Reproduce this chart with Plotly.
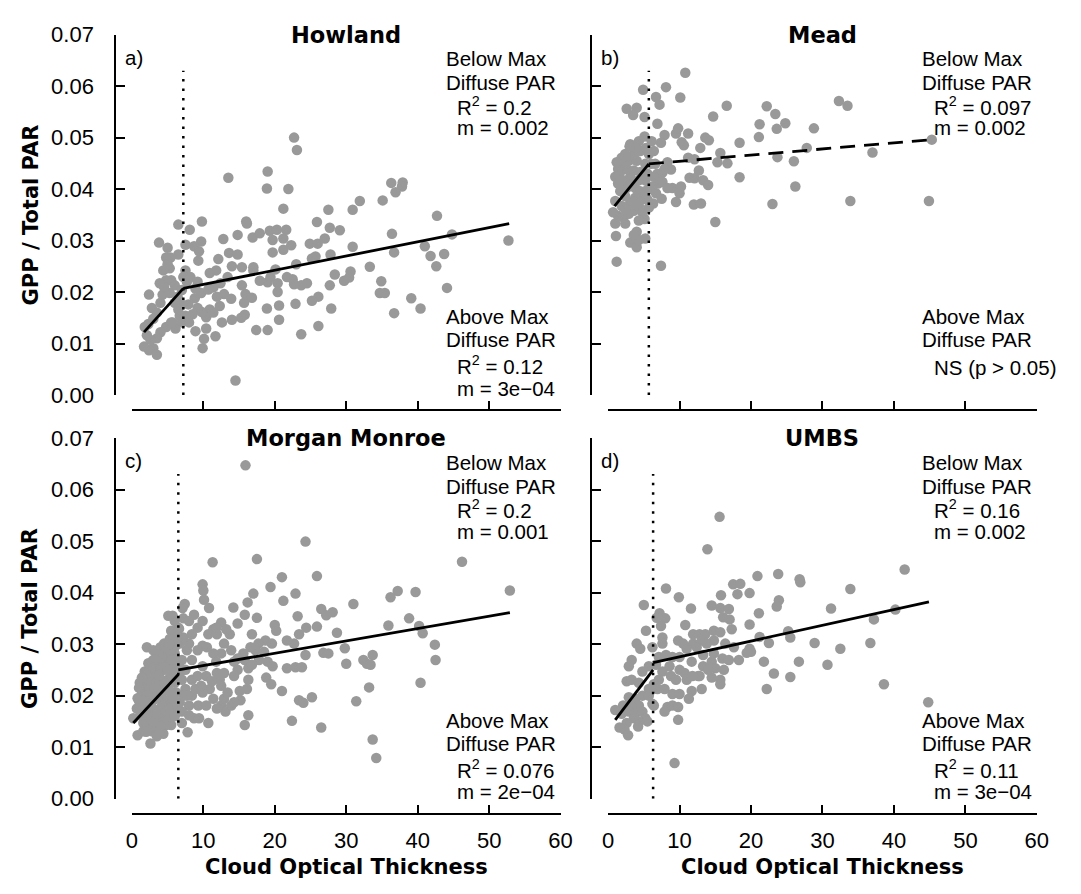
import plotly.graph_objects as go

# ---------------- data ----------------
howland_x = [22.7,23.1,13.5,19.0,18.9,21.9,21.2,36.3,37.9,37.8,36.9,31.9,35.1,30.9,27.5,25.9,16.0,16.1,9.8,8.1,6.5,14.8,12.8,16.9,17.9,19.3,20.3,21.6,19.7,21.2,19.7,21.2,22.3,24.9,26.0,27.0,27.7,29.1,27.8,25.7,25.2,30.9,36.4,36.7,42.7,41.0,41.8,43.7,44.8,42.6,44.1,52.7,33.3,30.6,29.7,30.4,28.4,27.7,34.9,34.7,35.4,39.1,40.4,36.7,26.1,25.2,27.9,26.1,23.7,22.9,24.5,23.7,22.5,21.7,22.7,23.0,20.1,20.4,20.4,20.6,20.6,19.0,18.9,19.0,19.4,17.4,17.0,17.9,15.9,16.8,15.7,15.8,15.3,14.0,14.5,11.7,9.9,10.1,8.9,12.6,12.3,10.9,10.4,9.8,9.2,8.5,7.9,8.8,9.7,10.7,11.4,12.4,11.8,10.9,12.1,9.3,9.7,8.7,13.6,14.0,14.8,15.4,15.4,17.0,13.4,13.9,12.9,7.5,6.5,5.3,5.5,6.0,3.8,5.0,5.4,4.4,4.8,4.3,5.3,6.4,7.0,6.7,5.5,6.1,4.8,4.0,3.5,3.0,2.4,1.7,3.5,2.6,2.1,1.8,2.3,2.4,2.8,3.5,4.0,3.0,7.0,7.7,7.2,8.2,9.2,7.5,9.4,8.9,11.9,11.4,10.4,4.8,5.0,4.5,6.0,6.5,5.7,7.0,7.5,8.0,3.9]
howland_y = [0.0500,0.0476,0.0422,0.0434,0.0401,0.0400,0.0362,0.0412,0.0413,0.0405,0.0394,0.0377,0.0378,0.0360,0.0360,0.0336,0.0337,0.0333,0.0337,0.0321,0.0331,0.0311,0.0303,0.0306,0.0314,0.0319,0.0321,0.0321,0.0301,0.0304,0.0277,0.0282,0.0291,0.0294,0.0294,0.0304,0.0325,0.0320,0.0273,0.0269,0.0265,0.0288,0.0313,0.0277,0.0348,0.0289,0.0270,0.0274,0.0312,0.0250,0.0208,0.0300,0.0249,0.0240,0.0222,0.0228,0.0234,0.0213,0.0221,0.0198,0.0198,0.0188,0.0168,0.0159,0.0191,0.0183,0.0168,0.0134,0.0118,0.0177,0.0217,0.0213,0.0225,0.0229,0.0215,0.0254,0.0244,0.0217,0.0200,0.0174,0.0146,0.0126,0.0168,0.0219,0.0229,0.0126,0.0242,0.0222,0.0196,0.0189,0.0179,0.0156,0.0150,0.0146,0.0028,0.0114,0.0091,0.0109,0.0124,0.0141,0.0173,0.0166,0.0151,0.0161,0.0169,0.0157,0.0176,0.0188,0.0198,0.0205,0.0209,0.0217,0.0242,0.0237,0.0264,0.0261,0.0298,0.0289,0.0276,0.0250,0.0273,0.0248,0.0213,0.0248,0.0229,0.0187,0.0196,0.0242,0.0273,0.0246,0.0223,0.0213,0.0296,0.0286,0.0267,0.0242,0.0223,0.0195,0.0198,0.0191,0.0176,0.0154,0.0141,0.0129,0.0132,0.0122,0.0110,0.0091,0.0087,0.0094,0.0078,0.0107,0.0116,0.0132,0.0138,0.0195,0.0169,0.0160,0.0179,0.0148,0.0204,0.0220,0.0229,0.0229,0.0220,0.0292,0.0279,0.0207,0.0191,0.0160,0.0129,0.0267,0.0254,0.0210,0.0179,0.0166,0.0141,0.0141,0.0154,0.0141,0.0217]

mead_x = [10.8,4.9,8.1,6.7,7.2,10.1,2.6,4.0,3.5,5.1,14.7,16.6,22.2,23.4,32.3,33.5,21.2,23.6,24.8,28.8,21.1,18.4,27.8,37.0,45.3,23.7,26.0,26.2,23.0,33.9,44.9,18.4,15.7,15.3,16.7,14.1,13.6,12.9,12.1,11.2,11.2,10.3,10.6,9.5,9.8,7.9,6.9,7.4,8.3,8.8,7.6,9.0,10.2,10.0,9.5,7.5,6.3,7.0,6.2,11.4,12.1,12.7,13.3,14.0,12.0,13.0,15.0,7.4,1.2,1.1,3.1,4.0,4.3,5.2,5.1,1.0,1.4,0.7,2.1,2.9,3.6,1.9,3.1,4.3,4.8,5.5,3.8,2.4,1.7,2.6,3.8,4.5,5.5,2.1,3.1,4.3,5.2,1.7,2.6,3.6,4.5,5.5,1.7,2.9,4.0,5.2,1.9,3.6,4.5,5.7,6.4,3.1,4.3,5.1,6.1,3.8,5.3,1.4,1.0,1.4,6.6,6.9,7.9,6.4,7.6,8.3,6.7,6.0,4.0,3.6,2.4,1.0,4.8,4.3,2.4,5.7,5.2,3.3,1.2,2.4,3.0]
mead_y = [0.0626,0.0593,0.0598,0.0579,0.0564,0.0578,0.0556,0.0558,0.0544,0.0540,0.0541,0.0562,0.0561,0.0546,0.0571,0.0562,0.0526,0.0517,0.0528,0.0518,0.0501,0.0490,0.0480,0.0471,0.0496,0.0462,0.0454,0.0405,0.0371,0.0377,0.0377,0.0423,0.0470,0.0452,0.0450,0.0495,0.0500,0.0480,0.0458,0.0461,0.0508,0.0491,0.0485,0.0508,0.0518,0.0505,0.0527,0.0490,0.0452,0.0438,0.0432,0.0402,0.0405,0.0392,0.0375,0.0381,0.0372,0.0411,0.0405,0.0422,0.0421,0.0436,0.0417,0.0408,0.0370,0.0372,0.0336,0.0251,0.0259,0.0309,0.0296,0.0287,0.0301,0.0304,0.0342,0.0333,0.0348,0.0355,0.0345,0.0352,0.0358,0.0367,0.0374,0.0367,0.0380,0.0380,0.0383,0.0386,0.0396,0.0402,0.0402,0.0396,0.0399,0.0417,0.0424,0.0417,0.0417,0.0433,0.0439,0.0436,0.0433,0.0430,0.0449,0.0455,0.0455,0.0449,0.0461,0.0468,0.0474,0.0468,0.0474,0.0487,0.0493,0.0502,0.0493,0.0480,0.0480,0.0439,0.0424,0.0411,0.0449,0.0430,0.0439,0.0424,0.0414,0.0402,0.0392,0.0449,0.0317,0.0311,0.0361,0.0377,0.0355,0.0339,0.0333,0.0364,0.0392,0.0411,0.0452,0.0468,0.0483]

mm_x = [15.9,24.3,46.2,11.3,17.5,21.0,25.9,9.9,10.0,19.4,22.9,17.0,52.9,37.2,39.7,36.2,31.0,7.4,7.1,10.1,10.8,14.2,16.2,21.2,26.5,27.2,28.1,23.2,17.5,5.1,7.2,38.8,35.9,40.2,40.7,42.4,42.5,40.4,28.7,29.8,30.0,32.4,32.9,33.7,33.4,33.2,31.4,33.7,34.2,26.8,27.5,25.2,26.5,23.4,24.0,22.4,21.0,21.7,22.9,23.8,24.3,22.7,21.7,23.4,24.4,25.9,20.0,20.2,19.6,18.7,17.7,17.3,19.0,19.7,18.8,19.5,16.3,16.1,15.2,16.3,15.8,16.6,15.8,14.8,14.3,14.8,13.7,12.5,11.4,10.7,11.9,12.9,12.5,11.4,10.5,9.9,9.2,8.4,8.0,8.4,9.9,10.4,11.9,12.3,12.5,10.9,9.9,9.3,10.4,11.4,12.5,13.1,13.9,12.9,11.9,10.7,9.4,8.7,8.0,7.8,7.0,8.0,8.4,7.5,8.4,7.5,7.0,7.7,6.7,6.0,5.5,6.5,6.0,7.0,6.7,7.0,6.1,5.5,4.8,5.3,4.5,4.0,3.3,4.4,2.6,0.8,0.2,1.6,2.1,2.8,3.5,1.8,2.3,3.0,4.0,5.0,5.7,3.5,2.8,4.5,5.5,1.6,2.3,3.0,4.0,5.0,6.0,1.6,2.6,3.5,4.5,5.5,6.2,1.8,3.0,4.0,5.0,5.7,1.3,2.3,3.3,1.8,2.6,3.3,1.6,2.6,4.0,4.8,2.1,3.0,4.0,5.0,5.5,4.5,5.3,6.0,2.8,4.2,1.8,1.3,1.1,2.0,1.2,0.7,6.5,6.7,7.2,7.7,8.9,9.2,9.7,11.2,11.8,12.9,13.4,14.3,15.1,16.3,17.8,18.5,16.8,15.6,14.3,13.9,13.2,14.8,16.8,8.0,8.7,9.9,9.2,7.2,15.8,11.8,
        1.0,1.5,2.0,2.5,3.0,3.5,4.0,4.5,5.0,5.5,6.0,6.3,5.8,5.2,4.7,4.2,3.7,3.2,2.6,2.0,1.4,1.0,0.8,1.2,1.8,2.4,3.0,3.6,4.2,4.8,5.4,6.0,6.4,5.8,5.2,4.6,4.0,3.4,2.8,2.2,1.6,6.2,5.6,5.0,3.8,3.2,2.6,2.0,3.8,6.3,6.6,6.0,5.7]
mm_y = [0.0647,0.0499,0.0460,0.0459,0.0465,0.0430,0.0432,0.0416,0.0404,0.0411,0.0398,0.0398,0.0404,0.0403,0.0401,0.0391,0.0378,0.0378,0.0370,0.0386,0.0370,0.0371,0.0381,0.0384,0.0368,0.0356,0.0362,0.0354,0.0351,0.0355,0.0350,0.0350,0.0336,0.0335,0.0321,0.0299,0.0269,0.0225,0.0322,0.0292,0.0262,0.0269,0.0262,0.0279,0.0260,0.0216,0.0189,0.0115,0.0079,0.0283,0.0282,0.0197,0.0138,0.0191,0.0186,0.0151,0.0209,0.0253,0.0255,0.0255,0.0279,0.0301,0.0307,0.0319,0.0332,0.0334,0.0337,0.0326,0.0301,0.0307,0.0301,0.0288,0.0266,0.0257,0.0235,0.0222,0.0231,0.0213,0.0191,0.0162,0.0143,0.0294,0.0269,0.0250,0.0238,0.0272,0.0319,0.0342,0.0329,0.0319,0.0319,0.0301,0.0282,0.0282,0.0294,0.0297,0.0332,0.0319,0.0301,0.0269,0.0257,0.0238,0.0244,0.0231,0.0219,0.0213,0.0206,0.0181,0.0181,0.0194,0.0181,0.0169,0.0181,0.0194,0.0175,0.0147,0.0156,0.0156,0.0162,0.0129,0.0147,0.0181,0.0200,0.0213,0.0231,0.0250,0.0269,0.0288,0.0301,0.0294,0.0326,0.0332,0.0282,0.0231,0.0187,0.0169,0.0175,0.0143,0.0143,0.0162,0.0175,0.0156,0.0137,0.0126,0.0107,0.0123,0.0156,0.0131,0.0140,0.0131,0.0121,0.0247,0.0263,0.0269,0.0269,0.0266,0.0257,0.0257,0.0247,0.0250,0.0244,0.0231,0.0225,0.0231,0.0228,0.0231,0.0225,0.0213,0.0206,0.0213,0.0209,0.0206,0.0206,0.0194,0.0191,0.0194,0.0191,0.0187,0.0178,0.0175,0.0172,0.0162,0.0156,0.0153,0.0147,0.0140,0.0140,0.0159,0.0294,0.0288,0.0294,0.0282,0.0288,0.0301,0.0310,0.0319,0.0266,0.0282,0.0219,0.0200,0.0225,0.0244,0.0162,0.0175,0.0257,0.0244,0.0200,0.0200,0.0213,0.0238,0.0219,0.0228,0.0266,0.0244,0.0206,0.0187,0.0209,0.0253,0.0269,0.0285,0.0260,0.0282,0.0266,0.0288,0.0329,0.0340,0.0319,0.0345,0.0357,0.0345,0.0288,0.0313,0.0357,0.0332,
        0.0190,0.0205,0.0185,0.0215,0.0240,0.0225,0.0250,0.0260,0.0275,0.0270,0.0270,0.0300,0.0310,0.0300,0.0285,0.0275,0.0280,0.0270,0.0255,0.0240,0.0235,0.0215,0.0195,0.0170,0.0150,0.0160,0.0150,0.0165,0.0180,0.0170,0.0175,0.0160,0.0180,0.0195,0.0210,0.0225,0.0205,0.0195,0.0205,0.0200,0.0190,0.0230,0.0240,0.0250,0.0240,0.0215,0.0180,0.0130,0.0130,0.0245,0.0330,0.0345,0.0355]

umbs_x = [15.6,13.9,41.5,23.8,20.9,26.8,26.9,17.5,18.5,8.1,19.8,18.1,15.8,9.9,33.9,23.9,23.6,31.2,40.2,5.0,11.6,14.5,15.7,16.9,21.1,7.2,8.0,16.1,17.0,37.2,10.8,19.8,5.3,17.3,25.2,25.5,21.2,22.5,28.9,36.7,32.5,11.9,12.8,13.6,14.8,15.7,7.6,7.6,9.8,11.9,13.1,14.8,4.0,4.5,6.2,19.8,20.0,17.6,21.8,26.7,30.7,3.3,2.9,4.8,7.1,8.1,9.0,10.0,11.7,13.3,14.5,16.0,16.9,15.0,16.2,13.3,12.6,14.5,15.7,15.7,11.0,8.6,7.6,8.8,9.5,7.1,6.4,6.9,7.9,9.0,10.0,11.7,13.1,11.3,12.8,2.6,3.3,4.3,5.7,2.9,3.8,4.8,5.7,6.2,8.3,9.0,9.8,7.9,6.4,4.3,3.3,2.1,1.0,1.9,2.9,3.8,4.8,5.2,4.3,3.6,2.6,1.6,2.3,2.8,4.2,5.5,9.8,9.3,22.2,23.2,25.5,38.6,44.8,6.7,5.7,10.0,10.7,11.8,14.0,14.8,18.3,12.4,11.0,10.5,7.4,6.8,13.8,16.4,19.4]
umbs_y = [0.0547,0.0484,0.0445,0.0436,0.0432,0.0426,0.0420,0.0416,0.0417,0.0408,0.0399,0.0397,0.0395,0.0391,0.0407,0.0385,0.0373,0.0369,0.0367,0.0376,0.0369,0.0375,0.0370,0.0368,0.0360,0.0360,0.0350,0.0352,0.0348,0.0348,0.0337,0.0338,0.0326,0.0329,0.0325,0.0313,0.0314,0.0302,0.0302,0.0302,0.0291,0.0319,0.0319,0.0319,0.0326,0.0323,0.0313,0.0301,0.0307,0.0301,0.0307,0.0307,0.0301,0.0291,0.0294,0.0291,0.0285,0.0294,0.0266,0.0266,0.0260,0.0269,0.0257,0.0247,0.0275,0.0279,0.0275,0.0275,0.0266,0.0279,0.0266,0.0272,0.0269,0.0253,0.0250,0.0257,0.0238,0.0235,0.0231,0.0222,0.0231,0.0257,0.0247,0.0238,0.0231,0.0231,0.0222,0.0213,0.0213,0.0203,0.0203,0.0209,0.0213,0.0194,0.0238,0.0228,0.0231,0.0225,0.0213,0.0197,0.0194,0.0200,0.0200,0.0184,0.0178,0.0181,0.0178,0.0169,0.0181,0.0181,0.0178,0.0181,0.0172,0.0165,0.0169,0.0165,0.0169,0.0156,0.0150,0.0156,0.0147,0.0138,0.0134,0.0123,0.0140,0.0150,0.0153,0.0069,0.0213,0.0243,0.0236,0.0222,0.0187,0.0260,0.0257,0.0250,0.0244,0.0238,0.0250,0.0282,0.0269,0.0294,0.0291,0.0301,0.0335,0.0351,0.0301,0.0301,0.0283]

# piecewise fits: below max diffuse PAR segment and above max diffuse PAR segment
howland_below_x, howland_below_y = [1.7, 7.2], [0.0122, 0.0207]
howland_above_x, howland_above_y = [7.2, 52.8], [0.0207, 0.0333]
mead_below_x, mead_below_y = [0.9, 5.7], [0.0367, 0.0449]
mead_above_x, mead_above_y = [5.7, 45.2], [0.0449, 0.0496]
mm_below_x, mm_below_y = [0.2, 6.5], [0.0147, 0.0241]
mm_above_x, mm_above_y = [6.5, 52.9], [0.0250, 0.0361]
umbs_below_x, umbs_below_y = [1.0, 6.3], [0.0153, 0.0250]
umbs_above_x, umbs_above_y = [6.3, 44.9], [0.0264, 0.0382]

# cloud optical thickness at max diffuse PAR (dotted vertical lines)
break_x = [7.2, 5.7, 6.5, 6.3]
break_top = [0.063, 0.063, 0.063, 0.063]

site_names = ["Howland", "Mead", "Morgan Monroe", "UMBS"]
panel_letters = ["a)", "b)", "c)", "d)"]
below_r2 = ["0.2", "0.097", "0.2", "0.16"]
below_m = ["0.002", "0.002", "0.001", "0.002"]
above_r2 = ["0.12", None, "0.076", "0.11"]
above_m = ["3e\u221204", None, "2e\u221204", "3e\u221204"]

x_ticks = [0, 10, 20, 30, 40, 50, 60]
x_ticklabels = ["0", "10", "20", "30", "40", "50", "60"]
y_ticks = [0.0, 0.01, 0.02, 0.03, 0.04, 0.05, 0.06, 0.07]
y_ticklabels = ["0.00", "0.01", "0.02", "0.03", "0.04", "0.05", "0.06", "0.07"]

# ---------------- layout geometry (pixels) ----------------
W, H = 1081, 894
FONT = "Liberation Sans, Arial, Helvetica, sans-serif"
BFONT = "DejaVu Sans, Liberation Sans, sans-serif"
def px(x):
    return x / W
def py(y):
    return 1 - y / H

col_x0 = [128.0, 612.3]      # pixel of x = 0
col_x1 = [564.0, 1048.3]     # pixel of x = 60
col_yaxis = [111.0, 595.0]   # y-axis line
row_top = [23.3, 438.3]      # pixel of y = 0.07
row_bot = [394.0, 809.3]     # pixel of y = 0.00
row_xaxis = [409.3, 824.7]   # x-axis line

fig = go.Figure()

series = [
    (howland_x, howland_y, howland_below_x, howland_below_y, howland_above_x, howland_above_y, "solid"),
    (mead_x, mead_y, mead_below_x, mead_below_y, mead_above_x, mead_above_y, "15px,9px"),
    (mm_x, mm_y, mm_below_x, mm_below_y, mm_above_x, mm_above_y, "solid"),
    (umbs_x, umbs_y, umbs_below_x, umbs_below_y, umbs_above_x, umbs_above_y, "solid"),
]

ANN = 20.5
annotations = []
for i, (sx, sy, bx, by, ax_, ay, adash) in enumerate(series):
    r, c = divmod(i, 2)
    xa = "x" if i == 0 else f"x{i+1}"
    ya = "y" if i == 0 else f"y{i+1}"
    fig.add_trace(go.Scatter(x=sx, y=sy, mode="markers", xaxis=xa, yaxis=ya,
                             marker=dict(size=10.5, color="#999999", line=dict(width=0)),
                             cliponaxis=False, showlegend=False, hoverinfo="skip"))
    fig.add_trace(go.Scatter(x=[break_x[i], break_x[i]], y=[0, break_top[i]], mode="lines",
                             xaxis=xa, yaxis=ya, line=dict(color="black", width=2.5, dash="2.5px,7px"),
                             showlegend=False, hoverinfo="skip"))
    fig.add_trace(go.Scatter(x=bx, y=by, mode="lines", xaxis=xa, yaxis=ya,
                             line=dict(color="black", width=2.8), showlegend=False, hoverinfo="skip"))
    fig.add_trace(go.Scatter(x=ax_, y=ay, mode="lines", xaxis=xa, yaxis=ya,
                             line=dict(color="black", width=2.8, dash=adash), showlegend=False, hoverinfo="skip"))

    xkey = "xaxis" if i == 0 else f"xaxis{i+1}"
    ykey = "yaxis" if i == 0 else f"yaxis{i+1}"
    fig.layout[xkey] = dict(
        domain=[px(col_x0[c]), px(col_x1[c])], range=[0, 60], anchor="free",
        position=py(row_xaxis[r]), side="bottom", showline=True, linecolor="black", linewidth=1.6,
        ticks="inside", ticklen=8, tickwidth=1.6, tickcolor="black",
        tickvals=x_ticks, ticktext=x_ticklabels, showticklabels=(r == 1),
        tickfont=dict(family=FONT, size=22, color="black"), ticklabelstandoff=7,
        showgrid=False, zeroline=False, fixedrange=True)
    fig.layout[ykey] = dict(
        domain=[py(row_bot[r]), py(row_top[r])], range=[0, 0.07], anchor="free",
        position=px(col_yaxis[c]), side="left", showline=True, linecolor="black", linewidth=1.6,
        ticks="inside", ticklen=9, tickwidth=1.6, tickcolor="black",
        tickvals=y_ticks, ticktext=y_ticklabels, showticklabels=(c == 0),
        tickfont=dict(family=FONT, size=22, color="black"), ticklabelstandoff=16,
        showgrid=False, zeroline=False, fixedrange=True)

    xc = (col_x0[c] + col_x1[c]) / 2
    # panel title
    annotations.append(dict(text=f"<b>{site_names[i]}</b>", x=px(xc), y=py(row_top[r]),
                            xref="paper", yref="paper", xanchor="center", yanchor="middle",
                            showarrow=False, font=dict(family=BFONT, size=22.5, color="black")))
    # panel letter
    annotations.append(dict(text=panel_letters[i], x=px(col_yaxis[c] + 8), y=py(row_top[r] + 23),
                            xref="paper", yref="paper", xanchor="left", yanchor="middle",
                            showarrow=False, font=dict(family=FONT, size=ANN, color="black")))
    # text blocks
    tx1 = col_x0[c] + 317
    tx2 = col_x0[c] + 329
    top_lines = [("Below Max", tx1, 25), ("Diffuse PAR", tx1, 49.5),
                 (f"R<sup>2</sup> = {below_r2[i]}", tx2, 73.5), (f"m = {below_m[i]}", tx2, 96)]
    for t, x, dy in top_lines:
        annotations.append(dict(text=t, x=px(x), y=py(row_top[r] + dy), xref="paper", yref="paper",
                                xanchor="left", yanchor="middle", showarrow=False,
                                font=dict(family=FONT, size=ANN, color="black")))
    if above_r2[i] is None:
        bot_lines = [("Above Max", tx1, -80.5), ("Diffuse PAR", tx1, -57), ("NS (p > 0.05)", tx2, -28)]
    else:
        bot_lines = [("Above Max", tx1, -80.5), ("Diffuse PAR", tx1, -57),
                     (f"R<sup>2</sup> = {above_r2[i]}", tx2, -31), (f"m = {above_m[i]}", tx2, -7)]
    for t, x, dy in bot_lines:
        annotations.append(dict(text=t, x=px(x), y=py(row_bot[r] + dy), xref="paper", yref="paper",
                                xanchor="left", yanchor="middle", showarrow=False,
                                font=dict(family=FONT, size=ANN, color="black")))
    # axis titles
    if c == 0:
        annotations.append(dict(text="<b>GPP / Total PAR</b>", x=px(25), y=py((row_top[r] + row_bot[r]) / 2),
                                xref="paper", yref="paper", xanchor="center", yanchor="middle",
                                textangle=-90, showarrow=False, font=dict(family=BFONT, size=21, color="black")))
    if r == 1:
        annotations.append(dict(text="<b>Cloud Optical Thickness</b>", x=px(xc), y=py(879.5),
                                xref="paper", yref="paper", xanchor="center", yanchor="middle",
                                showarrow=False, font=dict(family=BFONT, size=21, color="black")))

fig.update_layout(width=W, height=H, margin=dict(l=0, r=0, t=0, b=0), autosize=False,
                  paper_bgcolor="white", plot_bgcolor="white", annotations=annotations,
                  font=dict(family=FONT, color="black"))

fig.write_html("out.html", config={"displayModeBar": False})
